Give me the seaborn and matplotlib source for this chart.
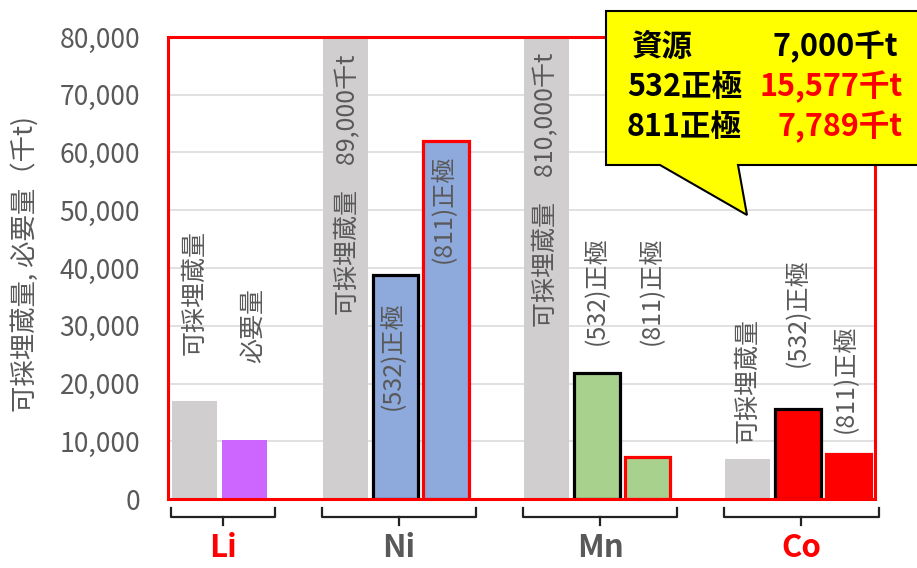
import numpy as np
import pandas as pd
import matplotlib
matplotlib.use("Agg")
import matplotlib.pyplot as plt
from matplotlib.patches import Polygon
from matplotlib.ticker import FuncFormatter
import matplotlib.transforms as mtrans
import seaborn as sns

# ---------------- data ----------------
metals = ["Li", "Ni", "Mn", "Co"]
bar_metal = ["Li", "Li", "Ni", "Ni", "Ni", "Mn", "Mn", "Mn", "Co", "Co", "Co"]
bar_kind = ["可採埋蔵量", "必要量",
            "可採埋蔵量", "(532)正極", "(811)正極",
            "可採埋蔵量", "(532)正極", "(811)正極",
            "可採埋蔵量", "(532)正極", "(811)正極"]
bar_value = [17000, 10200,
             89000, 38800, 62000,
             810000, 21800, 7300,
             7000, 15577, 7789]
callout_rows = ["資源", "532正極", "811正極"]
callout_values = [7000, 15577, 7789]
yticks = [0, 10000, 20000, 30000, 40000, 50000, 60000, 70000, 80000]
ylabel = "可採埋蔵量, 必要量（千t)"

# ---------------- styles ----------------
GRAY_TXT = "#595959"
fill_colors = ["#D0CECE", "#CC66FF",
               "#D0CECE", "#8EA9DB", "#8EA9DB",
               "#D0CECE", "#A9D18E", "#A9D18E",
               "#D0CECE", "#FF0000", "#FF0000"]
edge_colors = [None, None,
               None, "black", "red",
               None, "black", "red",
               None, "black", "red"]
metal_colors = ["#FF0000", GRAY_TXT, GRAY_TXT, "#FF0000"]
# label layout (bottom of rotated text in data units, x offset in slots)
label_bottom = [24900, 23500, 31800, 15400, 40800, 29700, 26600, 26600, 9700, 22800, 11400]
label_dx = [0, 0.16, 0.03, -0.05, -0.05, -0.03, 0, 0.1, 0, 0, -0.05]

plt.rcParams["font.family"] = ["Noto Sans CJK JP", "DejaVu Sans"]

keys = [f"{m}|{k}" for m, k in zip(bar_metal, bar_kind)]
df = pd.DataFrame({"slot": keys, "value": bar_value})

# order with gap slots between metals
order = []
for i, m in enumerate(metals):
    if i > 0:
        order.append(f"gap{i}")
    order += [k for k in keys if k.startswith(m + "|")]

palette = dict(zip(keys, fill_colors))

fig = plt.figure(figsize=(9.17, 5.68), dpi=100)
ax = fig.add_axes([168 / 917, (568 - 499) / 568, (875 - 168) / 917, (499 - 37) / 568])

sns.barplot(data=df, x="slot", y="value", hue="slot", order=order, hue_order=keys,
            palette=palette, width=0.9, saturation=1, legend=False, errorbar=None,
            ax=ax, zorder=3)

for p in ax.patches:
    c = p.get_x() + p.get_width() / 2
    idx = int(round(c))
    key = order[idx]
    if key in keys:
        j = keys.index(key)
        if edge_colors[j] is not None:
            p.set_edgecolor(edge_colors[j])
            p.set_linewidth(2.3)
        else:
            p.set_linewidth(0)

ax.set_xlim(-0.527, 13.53)
ax.set_ylim(0, 80000)
ax.set_xticks([])
ax.set_xlabel("")
ax.set_yticks(yticks)
ax.yaxis.set_major_formatter(FuncFormatter(lambda v, _: f"{int(v):,}"))
ax.tick_params(axis="y", length=0, pad=20, labelsize=19, labelcolor=GRAY_TXT)
ax.grid(axis="y", color="#D9D9D9", linewidth=1.1, zorder=0)
ax.set_axisbelow(True)
for s in ax.spines.values():
    s.set_color("red")
    s.set_linewidth(2.2)
    s.set_zorder(4)
ax.set_ylabel(ylabel, fontsize=19, color=GRAY_TXT)
ax.yaxis.set_label_coords(-0.183, 0.508)

# rotated labels on bars
for j, key in enumerate(keys):
    xi = order.index(key) + label_dx[j]
    kind = bar_kind[j]
    txt = kind
    if kind == "可採埋蔵量" and bar_value[j] > 80000:
        txt = f"{kind}\u3000{bar_value[j]:,}千t"
    ax.text(xi, label_bottom[j], txt, rotation=90, ha="center", va="bottom",
            fontsize=18, color=GRAY_TXT, zorder=5)

# brackets and metal labels below the axis
btrans = mtrans.blended_transform_factory(ax.transData, ax.transAxes)
y_end, y_bar, y_mid = -0.0195, -0.039, -0.056
for i, m in enumerate(metals):
    idxs = [order.index(k) for k in keys if k.startswith(m + "|")]
    x0, x1 = min(idxs) - 0.47, max(idxs) + 0.6
    xc = (x0 + x1) / 2
    ax.plot([x0, x0, x1, x1], [y_end, y_bar, y_bar, y_end], color="#222222",
            lw=1.6, transform=btrans, clip_on=False, solid_joinstyle="round")
    ax.plot([xc, xc], [y_bar, y_mid], color="#222222", lw=1.6,
            transform=btrans, clip_on=False)
    ax.text(xc, (499 - 557) / 462, m, transform=btrans, ha="center", va="baseline",
            fontsize=22.5, fontweight="bold", color=metal_colors[i])

# callout
W, H = 917, 568
pts = [(606, 11), (925, 11), (925, 165), (738, 165), (747, 215), (660, 165), (606, 165)]
poly = Polygon([(x / W, 1 - y / H) for x, y in pts], closed=True,
               transform=fig.transFigure, facecolor="#FFFF00", edgecolor="black",
               linewidth=1.5, zorder=10)
fig.add_artist(poly)
row_y = [47, 87, 127]
row_x = [632, 627, 627]
val_right = [898, 903, 903]
val_colors = ["black", "#FF0000", "#FF0000"]
for r in range(3):
    fig.text(row_x[r] / W, 1 - row_y[r] / H, callout_rows[r], ha="left", va="center",
             fontsize=22, fontweight="bold", color="black", zorder=11)
    fig.text(val_right[r] / W, 1 - row_y[r] / H, f"{callout_values[r]:,}千t",
             ha="right", va="center", fontsize=22, fontweight="bold",
             color=val_colors[r], zorder=11)

fig.savefig("out.png", dpi=100)
